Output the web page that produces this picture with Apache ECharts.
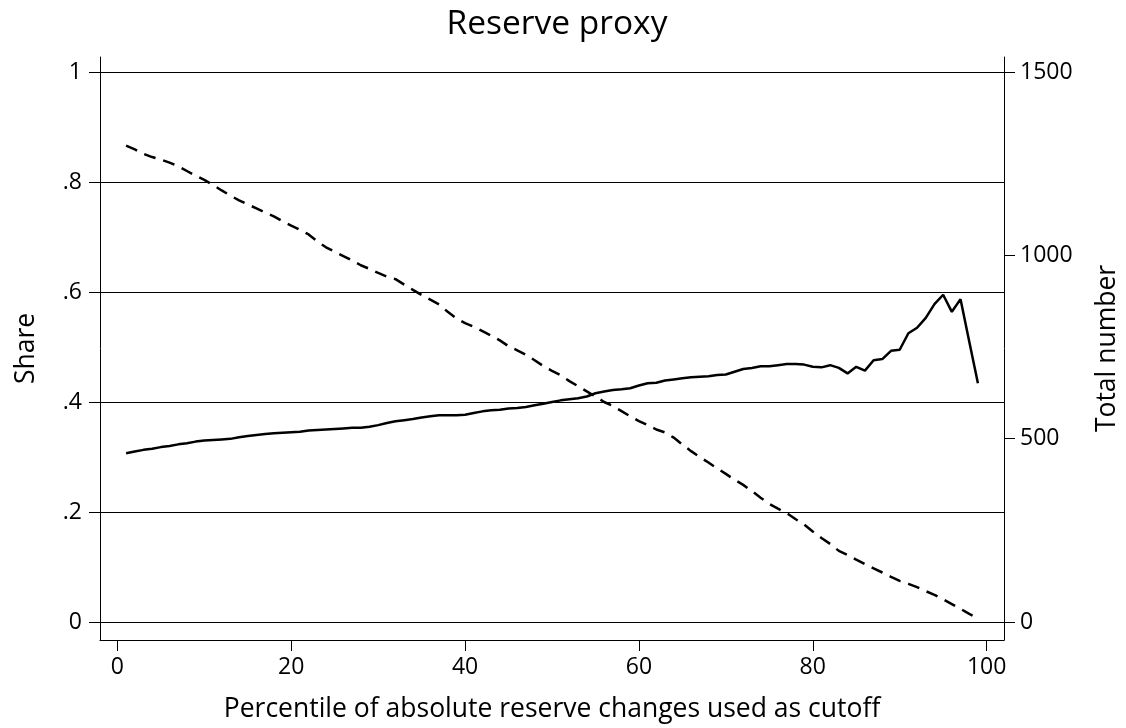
<!DOCTYPE html>
<html>
<head>
<meta charset="utf-8">
<script src="https://cdn.jsdelivr.net/npm/echarts@6/dist/echarts.min.js"></script>
<style>html,body{margin:0;padding:0;background:#fff;}#c{width:1126px;height:728px;}</style>
</head>
<body>
<div id="c"></div>
<script>
const pct = [];
for (let i = 1; i <= 99; i++) pct.push(i);
const share = [
0.307,0.310,0.313,0.315,0.318,0.320,0.323,0.325,0.328,0.330,
0.331,0.332,0.333,0.336,0.338,0.340,0.342,0.343,0.344,0.345,
0.346,0.348,0.349,0.350,0.351,0.352,0.353,0.353,0.355,0.358,
0.362,0.365,0.367,0.369,0.372,0.374,0.376,0.376,0.376,0.377,
0.380,0.383,0.385,0.386,0.388,0.389,0.391,0.394,0.397,0.400,
0.403,0.405,0.407,0.410,0.416,0.419,0.422,0.423,0.425,0.430,
0.434,0.435,0.439,0.441,0.443,0.445,0.446,0.447,0.449,0.450,
0.455,0.460,0.462,0.465,0.465,0.467,0.469,0.469,0.468,0.464,
0.463,0.467,0.462,0.452,0.464,0.457,0.476,0.478,0.493,0.495,
0.525,0.535,0.553,0.578,0.595,0.564,0.587,0.510,0.434
];
const total = [
1299,1289,1277,1268,1261,1253,1243,1230,1217,1206,
1192,1177,1163,1150,1139,1128,1117,1106,1093,1081,
1070,1057,1038,1022,1010,998,986,973,963,952,
942,935,920,906,892,879,866,846,828,815,
805,793,781,768,752,741,729,714,698,685,
673,657,643,629,615,600,589,575,561,548,
537,525,517,503,484,466,450,435,419,404,
388,374,357,339,322,309,297,281,266,247,
229,213,194,183,170,158,146,135,123,112,
104,95,84,74,62,49,36,22,10
];
const xTicks = [0, 20, 40, 60, 80, 100];
const leftTicks = [0, 0.2, 0.4, 0.6, 0.8, 1];
const rightTicks = [0, 500, 1000, 1500];

const FONT = 'Open Sans';
const chart = echarts.init(document.getElementById('c'), null, {renderer: 'canvas'});
const tickLbl = {color: '#000', fontSize: 23, fontFamily: FONT};
const nameLbl = {color: '#000', fontSize: 26.5, fontFamily: FONT};
chart.setOption({
  backgroundColor: '#fff',
  animation: false,
  title: {
    text: 'Reserve proxy',
    left: 552, top: 2, textAlign: 'center',
    textStyle: {color: '#000', fontSize: 33.5, fontWeight: 'normal', fontFamily: FONT}
  },
  grid: {left: 100, right: 122, top: 57, bottom: 88, containLabel: false, outerBoundsMode: 'none'},
  xAxis: {
    type: 'value', min: -2, max: 102,
    name: 'Percentile of absolute reserve changes used as cutoff',
    nameLocation: 'middle', nameGap: 56,
    nameTextStyle: nameLbl,
    axisLine: {show: true, onZero: false, lineStyle: {color: '#000', width: 1}},
    axisTick: {show: true, inside: false, length: 11, customValues: xTicks, lineStyle: {color: '#000', width: 1}},
    axisLabel: Object.assign({customValues: xTicks, margin: 16}, tickLbl),
    splitLine: {show: false}
  },
  yAxis: [{
    type: 'value', position: 'left', min: -0.0327, max: 1.0273,
    name: 'Share', nameLocation: 'middle', nameGap: 60, nameRotate: 90,
    nameTextStyle: nameLbl,
    axisLine: {show: true, onZero: false, lineStyle: {color: '#000', width: 1}},
    axisTick: {show: true, inside: false, length: 11, customValues: leftTicks, lineStyle: {color: '#000', width: 1}},
    axisLabel: Object.assign({customValues: leftTicks, margin: 18,
      formatter: v => (v === 0 ? '0' : (Math.abs(v - 1) < 1e-9 ? '1' : String(+v.toFixed(1)).replace(/^0\./, '.')))}, tickLbl),
    splitLine: {show: true, lineStyle: {color: '#000', width: 1}}
  }, {
    type: 'value', position: 'right', min: -49.09, max: 1540.91,
    name: 'Total number', nameLocation: 'middle', nameGap: 90, nameRotate: 90,
    nameTextStyle: nameLbl,
    axisLine: {show: true, onZero: false, lineStyle: {color: '#000', width: 1}},
    axisTick: {show: true, inside: false, length: 11, customValues: rightTicks, lineStyle: {color: '#000', width: 1}},
    axisLabel: Object.assign({customValues: rightTicks, margin: 16, formatter: v => String(v)}, tickLbl),
    splitLine: {show: false}
  }],
  series: [{
    name: 'Share', type: 'line', yAxisIndex: 0, showSymbol: false, symbol: 'none',
    data: pct.map((x, i) => [x, share[i]]),
    lineStyle: {color: '#000', width: 2.5}
  }, {
    name: 'Total number', type: 'line', yAxisIndex: 1, showSymbol: false, symbol: 'none',
    data: pct.map((x, i) => [x, total[i]]),
    lineStyle: {color: '#000', width: 2.5, type: [12, 8]}
  }]
});
</script>
</body>
</html>
